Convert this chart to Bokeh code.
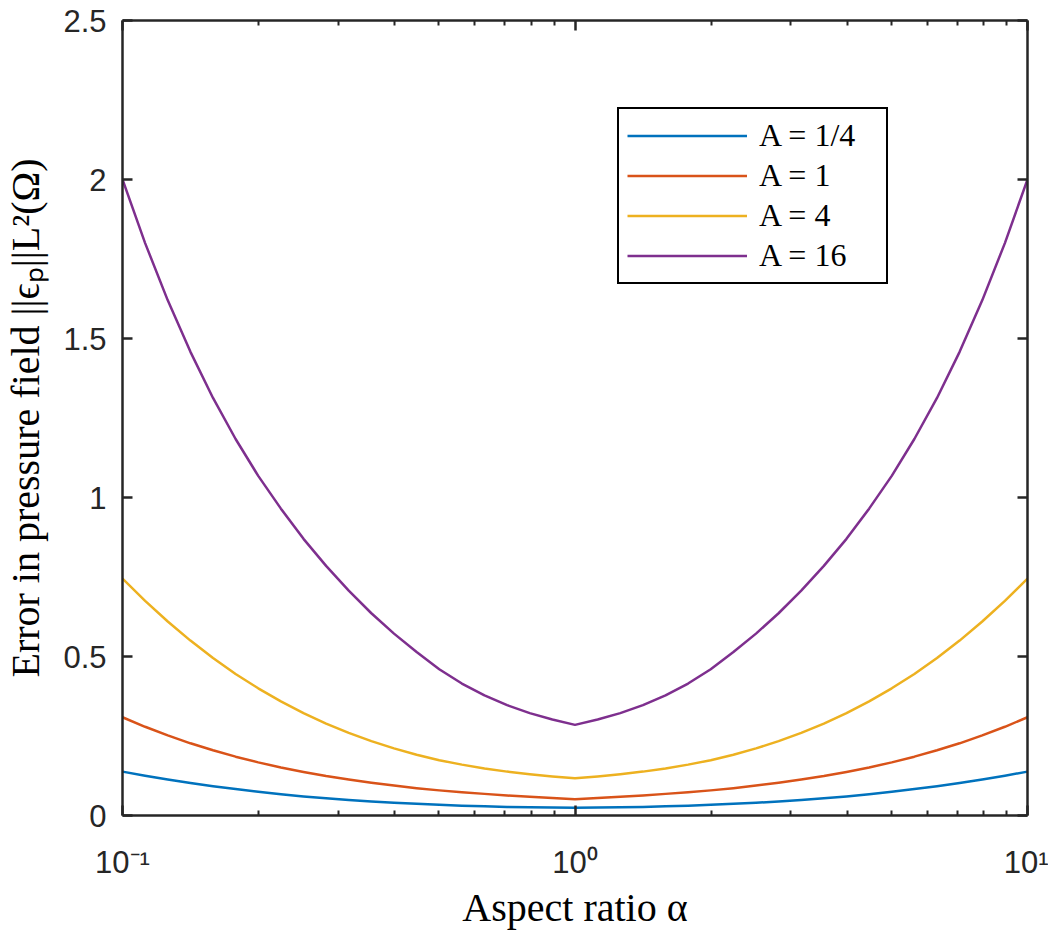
from bokeh.plotting import figure
from bokeh.models import (Range1d, FixedTicker, LogAxis, LinearAxis,
                          Legend, LegendItem, NumeralTickFormatter)
from bokeh.embed import file_html
from bokeh.resources import INLINE

# ---------------- data ----------------
alpha = [0.1, 0.1122, 0.1259, 0.1413, 0.1585, 0.1778, 0.1995, 0.2239, 0.2512, 0.2818,
         0.3162, 0.3548, 0.3981, 0.4467, 0.5012, 0.5623, 0.6310, 0.7079, 0.7943, 0.8913,
         1.0,
         1.122, 1.259, 1.413, 1.585, 1.778, 1.995, 2.239, 2.512, 2.818,
         3.162, 3.548, 3.981, 4.467, 5.012, 5.623, 6.310, 7.079, 7.943, 8.913, 10.0]
err_A_quarter = [0.138, 0.125, 0.113, 0.102, 0.092, 0.083, 0.075, 0.067, 0.060, 0.054,
                 0.049, 0.044, 0.040, 0.037, 0.034, 0.031, 0.029, 0.027, 0.026, 0.025,
                 0.024,
                 0.025, 0.026, 0.027, 0.029, 0.031, 0.034, 0.037, 0.040, 0.044,
                 0.049, 0.054, 0.060, 0.067, 0.075, 0.083, 0.092, 0.102, 0.113, 0.125, 0.138]
err_A_1 = [0.309, 0.279, 0.252, 0.227, 0.205, 0.185, 0.167, 0.151, 0.137, 0.124,
           0.113, 0.103, 0.094, 0.086, 0.079, 0.073, 0.068, 0.063, 0.059, 0.055,
           0.051,
           0.055, 0.059, 0.063, 0.068, 0.073, 0.079, 0.086, 0.094, 0.103,
           0.113, 0.124, 0.137, 0.151, 0.167, 0.185, 0.205, 0.227, 0.252, 0.279, 0.309]
err_A_4 = [0.745, 0.675, 0.610, 0.550, 0.495, 0.445, 0.400, 0.359, 0.322, 0.289,
           0.260, 0.234, 0.211, 0.191, 0.174, 0.160, 0.148, 0.138, 0.130, 0.123,
           0.117,
           0.123, 0.130, 0.138, 0.148, 0.160, 0.174, 0.191, 0.211, 0.234,
           0.260, 0.289, 0.322, 0.359, 0.400, 0.445, 0.495, 0.550, 0.610, 0.675, 0.745]
err_A_16 = [2.000, 1.800, 1.620, 1.458, 1.313, 1.184, 1.068, 0.965, 0.870, 0.785,
            0.707, 0.636, 0.572, 0.514, 0.460, 0.415, 0.378, 0.347, 0.322, 0.302,
            0.285,
            0.302, 0.322, 0.347, 0.378, 0.415, 0.460, 0.514, 0.572, 0.636,
            0.707, 0.785, 0.870, 0.965, 1.068, 1.184, 1.313, 1.458, 1.620, 1.800, 2.000]
series_labels = ["A = 1/4", "A = 1", "A = 4", "A = 16"]
series_colors = ["#0072BD", "#D95319", "#EDB120", "#7E2F8E"]
x_ticks = [0.1, 1, 10]
x_tick_labels = ["10⁻¹", "10⁰", "10¹"]
x_minor_ticks = [0.2, 0.3, 0.4, 0.5, 0.6, 0.7, 0.8, 0.9, 2, 3, 4, 5, 6, 7, 8, 9]
y_ticks = [0, 0.5, 1, 1.5, 2, 2.5]
x_title = "Aspect ratio α"
y_title = "Error in pressure field ||ϵₚ||L²(Ω)"

AX = "#262626"

p = figure(width=1048, height=932, x_axis_type="log",
           x_range=Range1d(0.1, 10), y_range=Range1d(0, 2.5),
           output_backend="svg", toolbar_location=None,
           min_border_left=121, min_border_right=21,
           min_border_top=20, min_border_bottom=114)
p.outline_line_color = None
p.xgrid.visible = False
p.ygrid.visible = False
p.background_fill_color = "white"
p.border_fill_color = "white"

def hide_labels(ax):
    ax.major_label_text_font_size = "1px"
    ax.major_label_text_alpha = 0
    ax.major_label_standoff = 0

def style_x(ax, labels=True):
    ax.ticker = FixedTicker(ticks=x_ticks, minor_ticks=x_minor_ticks)
    ax.axis_line_color = AX
    ax.axis_line_width = 2.5
    ax.major_tick_in = 10
    ax.major_tick_out = 0
    ax.minor_tick_in = 5
    ax.minor_tick_out = 0
    ax.major_tick_line_color = AX
    ax.minor_tick_line_color = AX
    ax.major_tick_line_width = 2.5
    ax.minor_tick_line_width = 2
    if labels:
        ax.major_label_overrides = dict(zip(x_ticks, x_tick_labels))
        ax.major_label_text_font = "Liberation Sans"
        ax.major_label_text_font_size = "31px"
        ax.major_label_text_color = AX
        ax.major_label_standoff = 29
        ax.axis_label = x_title
        ax.axis_label_text_font = "Liberation Serif"
        ax.axis_label_text_font_style = "normal"
        ax.axis_label_text_font_size = "40px"
        ax.axis_label_text_color = "#000000"
        ax.axis_label_standoff = 2
    else:
        hide_labels(ax)

def style_y(ax, labels=True):
    ax.ticker = FixedTicker(ticks=y_ticks)
    ax.axis_line_color = AX
    ax.axis_line_width = 2.5
    ax.major_tick_in = 10
    ax.major_tick_out = 0
    ax.minor_tick_in = 0
    ax.minor_tick_out = 0
    ax.major_tick_line_color = AX
    ax.major_tick_line_width = 2.5
    if labels:
        ax.formatter = NumeralTickFormatter(format="0.[0]")
        ax.major_label_text_font = "Liberation Sans"
        ax.major_label_text_font_size = "31px"
        ax.major_label_text_color = AX
        ax.major_label_standoff = 16
        ax.axis_label = y_title
        ax.axis_label_text_font = "Liberation Serif"
        ax.axis_label_text_font_style = "normal"
        ax.axis_label_text_font_size = "40px"
        ax.axis_label_text_color = "#000000"
        ax.axis_label_standoff = 12
    else:
        hide_labels(ax)

style_x(p.xaxis[0])
style_y(p.yaxis[0])
top_axis = LogAxis()
style_x(top_axis, labels=False)
p.add_layout(top_axis, "above")
right_axis = LinearAxis()
style_y(right_axis, labels=False)
p.add_layout(right_axis, "right")

# ---------------- curves ----------------
renderers = []
for ys, c in zip([err_A_quarter, err_A_1, err_A_4, err_A_16], series_colors):
    r = p.line(alpha, ys, line_color=c, line_width=2.5, line_join="round")
    renderers.append(r)

legend = Legend(items=[LegendItem(label=s, renderers=[r])
                       for s, r in zip(series_labels, renderers)],
                location=(495, 531), padding=8, spacing=3,
                glyph_width=120, glyph_height=37, label_height=37,
                label_width=119, label_standoff=12,
                label_text_font="Liberation Serif", label_text_font_size="32px",
                label_text_color="#000000",
                border_line_color="#000000", border_line_width=2, border_line_alpha=1.0,
                background_fill_color="white", background_fill_alpha=1.0)
p.add_layout(legend)

open("out.html", "w").write(file_html(p, INLINE))
